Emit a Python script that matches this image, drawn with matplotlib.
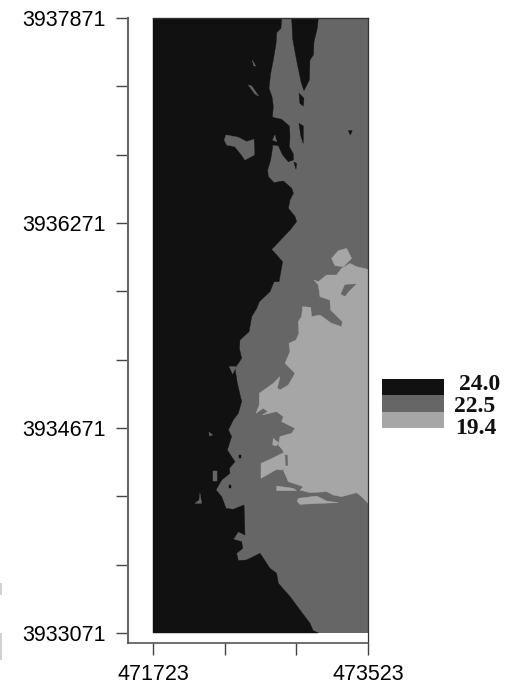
# -*- coding: utf-8 -*-
import numpy as np
import matplotlib
matplotlib.use("Agg")
import matplotlib.pyplot as plt
from matplotlib.patches import Rectangle

W, H = 509, 686

# map corner, zones below are metres east / north of this corner
E0 = 471723
N0 = 3933071
E1 = 473523
N1 = 3937871

x_ticks = [471723, 472323, 472923, 473523]
x_labels = ["471723", "", "", "473523"]
y_ticks = [3933071, 3933604, 3934138, 3934671, 3935204, 3935738, 3936271, 3936804, 3937338, 3937871]
y_labels = ["3933071", "", "", "3934671", "", "", "3936271", "", "", "3937871"]

levels = ["24.0", "22.5", "19.4"]
level_colors = ["#111111", "#666666", "#a6a6a6"]

# 24.0 zone, west side
warm_zone = [(1077,4800),(1071,4719),(1035,4685),(1030,4602),(1007,4472),(985,4368),(971,4251),(996,4186),
    (1007,4108),(999,4025),(1077,4009),(1141,3957),(1147,3874),(1141,3796),(1175,3739),(1175,3692),
    (1133,3679),(1085,3731),(1049,3804),(1002,3809),(1002,3796),(985,3692),(960,3614),(965,3562),
    (1013,3515),(1091,3528),(1161,3471),(1175,3432),(1147,3380),(1133,3315),(1189,3250),(1202,3211),
    (1147,3145),(993,2994),(1085,2898),(1055,2742),(1013,2742),(979,2664),(890,2586),(868,2534),
    (826,2469),(804,2352),(728,2287),(723,2222),(742,2144),(686,2066),(706,1949),(742,1806),
    (714,1715),(672,1663),(631,1585),(658,1533),(622,1428),(686,1337),(639,1285),(644,1246),
    (575,1194),(527,1116),(575,1064),(611,973),(672,965),(762,999),(770,765),(714,791),
    (672,731),(742,713),(751,661),(700,622),(714,565),(784,570),(896,622),(979,505),
    (1035,466),(1049,388),(1147,284),(1230,180),(1314,76),(1340,20),(1384,0),(0,0),(0,4800)]
warm_wedge = [(1161,4800),(1384,4800),(1375,4719),(1348,4615),(1342,4511),(1314,4472),(1309,4316),
    (1264,4233),(1239,4303),(1202,4472),(1169,4641)]
warm_bits = [
    [(1222,4212),(1264,4173),(1258,4113),(1230,4134)],
    [(1222,3978),(1258,3957),(1258,3822),(1239,3874)],
    [(1180,3674),(1202,3666),(1197,3619)],
    [(1635,3921),(1668,3921),(1652,3887)],
]

# 22.5 patches inside the 24.0 zone
mid_bits = [
    [(831,4472),(859,4425),(845,4425)],
    [(798,4277),(826,4269),(884,4191),(854,4207)],
    [(611,3887),(714,3869),(784,3835),(845,3853),(848,3731),(770,3692),(742,3731),(686,3796),(617,3809),(597,3848)],
    [(1002,3848),(1021,3887),(1035,3835)],
    [(639,2079),(695,2079),(667,2022)],
    [(469,1567),(499,1546),(472,1538)],
    [(505,1267),(533,1267),(533,1189),(505,1189)],
    [(393,1090),(407,1012),(352,1012),(388,1038)],
]
warm_dots = [
    [(723,1389),(734,1389),(734,1363),(723,1363)],
    [(639,1155),(650,1155),(650,1129),(639,1129)],
]

# 19.4 zone, east side
cool_zone = [(1800,2838),(1705,2859),(1649,2885),(1579,2846),(1537,2794),(1454,2794),(1384,2742),(1348,2755),
    (1384,2716),(1398,2625),(1481,2599),(1487,2521),(1585,2430),(1579,2391),(1495,2417),(1398,2482),
    (1328,2469),(1320,2542),(1253,2547),(1244,2469),(1216,2430),(1222,2339),(1197,2287),(1138,2261),
    (1147,2196),(1105,2105),(1189,2027),(1133,1936),(1063,1897),(1041,1910),(1063,2001),(1007,1949),
    (890,1871),(890,1780),(862,1715),(923,1754),(960,1728),(915,1702),(1035,1728),(1091,1689),
    (1077,1650),(1189,1598),(1161,1559),(1063,1533),(1049,1468),(1085,1428),(1133,1311),(1091,1272),
    (1133,1181),(1258,1142),(1230,1116),(1314,1095),(1454,1103),(1509,1077),(1579,1064),(1705,1095),
    (1747,1064),(1800,1012)]
cool_bits = [
    [(904,1324),(979,1355),(1091,1407),(1136,1298),(1077,1272),(1035,1277),(993,1254),(904,1207)],
    [(1035,1147),(1175,1129),(1202,1111),(1035,1111)],
    [(1216,1051),(1370,1069),(1454,1030),(1551,1017),(1398,1012),(1230,1004),(1208,1025)],
    [(1495,2924),(1551,2984),(1621,3002),(1663,2924),(1593,2859),(1523,2867)],
    [(1007,1520),(1049,1486),(1035,1460),(1002,1468)],
]
mid_holes = [
    [(1607,2716),(1699,2724),(1635,2664),(1607,2630),(1574,2646)],
    [(1108,1389),(1124,1389),(1127,1308),(1113,1308)],
]


def draw_zone(ax, pts, color):
    pts = np.array(pts)
    ax.fill(E0 + pts[:, 0], N0 + pts[:, 1], color=color, lw=0.3)


fig = plt.figure(figsize=(W / 100, H / 100), dpi=100)
ax = fig.add_axes([128 / W, 1 - 643 / H, 240 / W, 625 / H])

# extent is filled with the middle class first, the others go on top
ax.fill([E0, E1, E1, E0], [N0, N0, N1, N1], color=level_colors[1], lw=0)
draw_zone(ax, warm_zone, level_colors[0])
draw_zone(ax, warm_wedge, level_colors[0])
for b in warm_bits:
    draw_zone(ax, b, level_colors[0])
for b in mid_bits:
    draw_zone(ax, b, level_colors[1])
for b in warm_dots:
    draw_zone(ax, b, level_colors[0])
draw_zone(ax, cool_zone, level_colors[2])
for b in cool_bits:
    draw_zone(ax, b, level_colors[2])
for b in mid_holes:
    draw_zone(ax, b, level_colors[1])

ax.plot([E0, E1], [N1, N1], color="#333333", lw=1, clip_on=False)

ax.set_xlim(E0 - 25 * 1800 / 215, E1)
ax.set_ylim(N0 - 10 * 4800 / 615, N1)
ax.set_xticks(x_ticks)
ax.set_xticklabels(x_labels, family="Liberation Sans", fontsize=15.5, color="#000000")
ax.set_yticks(y_ticks)
ax.set_yticklabels(y_labels, family="Liberation Sans", fontsize=15.5, color="#000000")
ax.tick_params(axis="x", length=8.6, width=1, color="#444444", pad=6.5)
ax.tick_params(axis="y", length=9, width=1, color="#444444", pad=7)

ax.spines["top"].set_visible(False)
ax.spines["left"].set_color("#666666")
ax.spines["left"].set_linewidth(1.5)
ax.spines["bottom"].set_color("#555555")
ax.spines["bottom"].set_linewidth(1.2)
ax.spines["right"].set_color("#333333")
ax.spines["right"].set_linewidth(0.9)

# class key on the right
key_top = [379, 395, 412]
key_bottom = [395, 412, 428]
key_text_x = [459, 454, 455]
key_text_y = [385, 406, 429]
for i in range(3):
    fig.add_artist(Rectangle((382 / W, 1 - key_bottom[i] / H), 62 / W, (key_bottom[i] - key_top[i]) / H,
                             transform=fig.transFigure, color=level_colors[i], lw=0))
    fig.text(key_text_x[i] / W, 1 - key_text_y[i] / H, levels[i], family="Liberation Serif",
             fontweight="bold", fontsize=17, color="#111111", va="center", ha="left")

# scan marks at the left edge of the page
fig.add_artist(Rectangle((0, 1 - 595 / H), 2 / W, 12 / H, transform=fig.transFigure, color="#d0d0d0", lw=0))
fig.add_artist(Rectangle((0, 1 - 660 / H), 2 / W, 27 / H, transform=fig.transFigure, color="#d0d0d0", lw=0))

fig.savefig("out.png", dpi=100)
